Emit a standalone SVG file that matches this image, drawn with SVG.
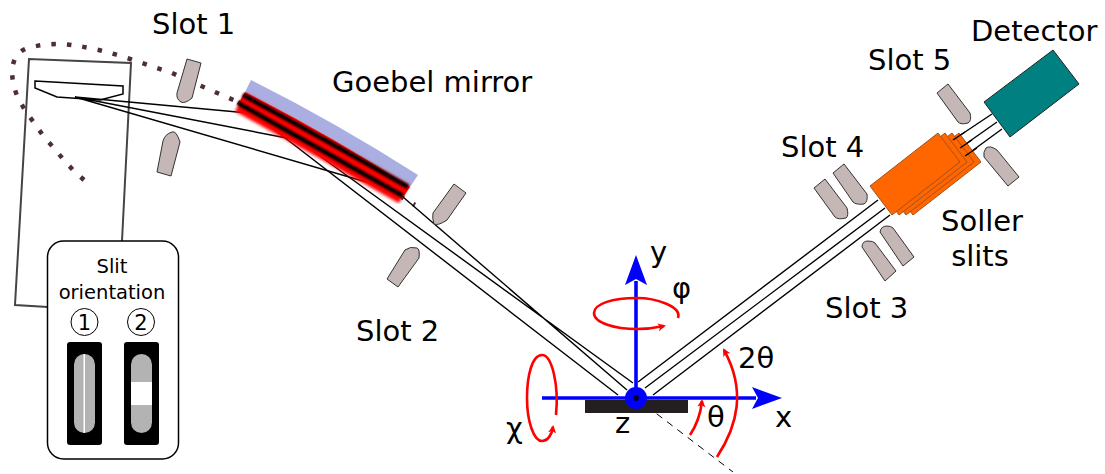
<svg xmlns="http://www.w3.org/2000/svg" width="1105" height="474" viewBox="0 0 1105 474">
<style>
text{font-family:"DejaVu Sans",sans-serif;fill:#000}
.lab{font-size:29px}
.small{font-size:19.500px;text-anchor:middle}
.num{font-size:21px;text-anchor:middle}
.slit{fill:#c6b7b7;stroke:#333;stroke-width:1}
.beam{fill:none;stroke:#000;stroke-width:1.4}
.axis{fill:none;stroke:#00f;stroke-width:3.6}
.rot{fill:none;stroke:#f00;stroke-width:2.6}
.sol{fill:#f60;stroke:#a5501c;stroke-width:1}
</style>
<defs>
<filter id="b0" x="-5%" y="-5%" width="110%" height="110%"><feGaussianBlur stdDeviation="0.5"/></filter>
<filter id="b1" x="-10%" y="-10%" width="120%" height="120%"><feGaussianBlur stdDeviation="1.6"/></filter>
<filter id="b2" x="-10%" y="-10%" width="120%" height="120%"><feGaussianBlur stdDeviation="0.9"/></filter>
<marker id="bh" markerUnits="userSpaceOnUse" markerWidth="34" markerHeight="26" refX="4" refY="13" orient="auto"><path d="M0,2 L30,13 L0,24 L6,13 Z" fill="#00f"/></marker>
<marker id="rh" markerUnits="userSpaceOnUse" markerWidth="10" markerHeight="10" refX="6" refY="4" orient="auto"><path d="M0,0 L8,4 L0,8 L2,4 Z" fill="#f00"/></marker>
</defs>
<rect width="1105" height="474" fill="#fff"/>
<g id="source-path"><path d="M84,180 L73,170 L63,159 L53,147 L44,137 L35,124 L26,112 L18,98 Q12,84 12,70 Q14,52 28,48 Q50,42 72,45 Q100,49 130,59 L172,73 L199,85 L238,102 M238,102 L415,205" fill="none" stroke="#4d2f35" stroke-width="4.500" stroke-dasharray="4.500 11.100" filter="url(#b0)"/></g>
<g id="tube"><path d="M48,307 L15,305 L29,59 L131,63 L122,241" fill="none" stroke="#444" stroke-width="2" filter="url(#b0)"/>
<path d="M35,81 L123,86 L123,94 L100,100 L57,97 L35,88 Z" fill="#fff" stroke="#000" stroke-width="1.5"/></g>
<g id="connectors">
<path class="beam" d="M75,97 L248,113 M75,97 L302,141 M75,97 L373,184"/>
<path class="beam" d="M253,113 L618,395 M302,143 L633,383 M403,197 L627,390"/>
<path class="beam" d="M638,382 L878,200 M645,388 L885,208 M653,395 L890,215"/>
<path class="beam" d="M953,140 L992,114 M960,148 L997,122 M965,156 L1002,129"/>
<path d="M636,398 L733,472" fill="none" stroke="#000" stroke-width="1" stroke-dasharray="7 6"/>
</g>
<g id="slot-1"><path class="slit" d="M187,59 L201,63 L192,98 Q185,104 181,102 Q176,99 177,93 Z"/><path class="slit" d="M157,172 L171,176 L180,142 Q176,130 172,132 Q165,134 163,141 Z"/><text class="lab" x="152" y="34">Slot 1</text></g>
<g id="goebel-mirror">
<path d="M251,80 Q335,122 418,175 L410,187 Q330,135 245,92 Z" fill="#aaaee0"/>
<path d="M240,102 Q323,148 404,194" fill="none" stroke="#f00" stroke-width="21" filter="url(#b1)"/>
<path d="M245,92 Q330,135 410,187 L404,196 Q323,150 238,104 Z" fill="#f00"/>
<path d="M243,95 Q328,141 408,187 M238,103 Q322,150 403,196" fill="none" stroke="#000" stroke-width="4.500" filter="url(#b2)"/>
<text class="lab" x="332" y="92">Goebel mirror</text></g>
<g id="slot-2"><path class="slit" d="M454,184 L466,193 L447,220 Q438,226 434,224 Q432,218 433,213 Z"/><path class="slit" d="M387,279 L398,287 L419,258 Q420,249 417,248 Q410,246 405,250 Z"/><text class="lab" x="356" y="341">Slot 2</text></g>
<g id="slit-orientation">
<rect x="47.500" y="241" width="131" height="218" rx="16" fill="#fff" stroke="#000" stroke-width="1.5"/>
<text class="small" x="112" y="273">Slit</text><text class="small" x="112" y="299">orientation</text>
<circle cx="84.500" cy="322" r="13.500" fill="#fff" stroke="#000" stroke-width="1"/><circle cx="141" cy="322" r="13.500" fill="#fff" stroke="#000" stroke-width="1"/>
<text class="num" x="84.500" y="330">1</text><text class="num" x="141" y="330">2</text>
<rect x="67" y="342" width="35" height="103" rx="3" fill="#000"/><rect x="124" y="342" width="35" height="103" rx="3" fill="#000"/>
<rect x="74" y="354" width="21" height="79" rx="10.500" fill="#b3b3b3"/><rect x="131" y="354" width="21" height="79" rx="10.500" fill="#b3b3b3"/>
<rect x="83.500" y="354" width="1.500" height="79" fill="#fff"/><rect x="131" y="382" width="21" height="23" fill="#fff"/>
</g>
<g id="sample"><rect x="585" y="400" width="103" height="13" fill="#231f20"/></g>
<g id="axes">
<path class="axis" d="M636,398 L636,281" marker-end="url(#bh)"/><path class="axis" d="M542,398 L756,398" marker-end="url(#bh)"/>
<circle cx="636" cy="398" r="11" fill="#00f"/><circle cx="636" cy="398" r="3" fill="#003"/>
<path class="rot" d="M678,318 C682,306 655,298 637,298 C612,298 594,304 594,313 C594,323 615,329 637,329 C646,329 655,328 664,326" marker-end="url(#rh)"/>
<path class="rot" d="M556,415 C559,385 552,355 542,355 C532,355 527,376 527,398 C527,422 534,441 542,441 C548,441 552,434 553,427" marker-end="url(#rh)"/>
<path class="rot" d="M690,435 Q700,420 702,401" marker-end="url(#rh)"/>
<path class="rot" d="M717,457 C738,425 746,390 724,350" marker-end="url(#rh)"/>
<text class="lab" x="650" y="262">y</text><text class="lab" x="672" y="298">φ</text><text class="lab" x="738" y="368">2θ</text><text class="lab" x="707" y="427">θ</text><text class="lab" x="775" y="427">x</text><text class="lab" x="615" y="433">z</text><text class="lab" x="506" y="438">χ</text>
</g>
<g id="slot-3"><path class="slit" d="M862,247 Q862,241 868,241 Q873,241 875,243 L896,271 L885,281 Z"/><path class="slit" d="M880,232 Q881,226 887,226 Q891,226 893,228 L914,257 L903,266 Z"/><text class="lab" x="825" y="318">Slot 3</text></g>
<g id="slot-4"><path class="slit" d="M814,188 L825,179 L847,208 Q849,216 846,218 Q838,220 835,217 Z"/><path class="slit" d="M833,173 L844,164 L867,194 Q868,202 864,204 Q856,205 853,202 Z"/><text class="lab" x="781" y="157">Slot 4</text></g>
<g id="soller-slits">
<path class="sol" d="M891,186 L959,133 L981,162 L913,215 Z"/><path class="sol" d="M884,186 L952,133 L974,162 L906,215 Z"/><path class="sol" d="M877,186 L945,133 L967,162 L899,215 Z"/><path class="sol" d="M870,186 L938,133 L960,162 L892,215 Z"/>
<path class="beam" d="M953,140 L965,132 M960,148 L972,140 M965,156 L977,148"/>
<text class="lab" x="982" y="231" text-anchor="middle">Soller</text><text class="lab" x="980" y="266" text-anchor="middle">slits</text></g>
<g id="slot-5"><path class="slit" d="M937,93 L948,84 L970,113 Q972,121 968,123 Q961,125 958,122 Z"/><path class="slit" d="M1008,186 L1019,177 L997,150 Q990,145 986,148 Q983,152 984,157 Z"/><text class="lab" x="868" y="70">Slot 5</text></g>
<g id="detector"><path d="M1053,50 L1079,84 L1010,137 L984,102 Z" fill="#008080" stroke="#222" stroke-width="1"/><text class="lab" x="971" y="41">Detector</text></g>
</svg>
